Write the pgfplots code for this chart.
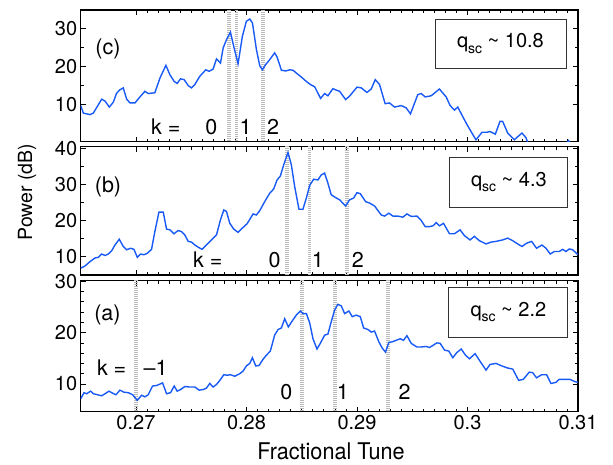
\documentclass[border=0pt]{standalone}
\usepackage{pgfplots}
\pgfplotsset{compat=1.18}
\usepackage{fontspec}
\setmainfont{TeX Gyre Heros}
\newfontfamily\xlfont[FakeStretch=0.94]{TeX Gyre Heros}
\definecolor{spec}{RGB}{25,90,245}
\newcommand{\lbl}{\fontsize{20}{20}\selectfont}
\newcommand{\ilbl}{\fontsize{21.5}{22}\selectfont}
\newcommand{\qsc}[1]{\fontsize{20}{20}\selectfont q\raisebox{-0.5ex}{\fontsize{14}{14}\selectfont sc} \textasciitilde{} #1}
\tikzset{qbox/.style={draw=black!80, line width=0.8pt, fill=white, inner sep=0pt}}
\pgfplotsset{
  panel/.style={
    scale only axis, width=497.3pt,
    xmin=0.265, xmax=0.31,
    xtick={0.27,0.28,0.29,0.3,0.31},
    minor x tick num=9,
    tick align=inside,
    axis line style={line width=1.3pt},
    major tick length=5pt, minor tick length=3pt,
    every tick/.style={black, line width=0.7pt},
    tick label style={font=\lbl},
    /pgf/number format/assume math mode=true,
    anchor=south west,
  },
  vline/.style={draw=gray!55, line width=3.8pt, dash pattern=on 1pt off 1pt, forget plot},
  specline/.style={spec, line width=1.4pt, mark=none},
}
\begin{document}
\begin{tikzpicture}
\path[use as bounding box] (0,0) rectangle (613pt,464pt);

% ---------------- panel (c) ----------------
\begin{axis}[panel, at={(80.7pt,322.3pt)}, height=131.7pt,
  ymin=0, ymax=35, ytick={10,20,30}, minor y tick num=1, xticklabels={}]
\addplot[vline] coordinates {(0.2784,-5) (0.2784,40)};
\addplot[vline] coordinates {(0.2791,-5) (0.2791,40)};
\addplot[vline] coordinates {(0.2815,-5) (0.2815,40)};
\addplot[specline] coordinates {
(0.26500,9.6) (0.26524,7.6) (0.26584,7.2) (0.26614,7.6) (0.26690,11.3) (0.26720,10.8)
(0.26759,9.2) (0.26795,10.5) (0.26825,12.9) (0.26855,13.8) (0.26885,14.3) (0.26916,11.3)
(0.26946,10.3) (0.26991,10.3) (0.27036,11.9) (0.27081,13.4) (0.27111,12.8) (0.27171,13.0)
(0.27217,16.9) (0.27271,20.3) (0.27307,17.8) (0.27346,16.0) (0.27373,15.5) (0.27403,16.7)
(0.27436,16.5) (0.27473,14.9) (0.27503,14.3) (0.27533,15.2) (0.27578,17.4) (0.27632,19.1)
(0.27662,18.7) (0.27698,19.3) (0.27729,22.0) (0.27765,20.9) (0.27789,24.9) (0.27819,27.1)
(0.27855,29.1) (0.27885,25.3) (0.27924,20.7) (0.27963,28.0) (0.27999,32.0) (0.28030,32.6)
(0.28054,31.6) (0.28090,24.5) (0.28120,20.2) (0.28144,19.1) (0.28174,20.5) (0.28210,21.8)
(0.28255,23.6) (0.28277,22.5) (0.28316,19.0) (0.28355,18.8) (0.28391,19.1) (0.28421,19.0)
(0.28457,18.1) (0.28496,17.2) (0.28542,16.0) (0.28578,15.2) (0.28617,14.6) (0.28671,11.5)
(0.28707,12.8) (0.28737,12.2) (0.28782,14.1) (0.28813,13.7) (0.28843,13.4) (0.28897,11.2)
(0.28933,12.1) (0.29000,14.5) (0.29039,14.3) (0.29090,13.1) (0.29129,14.0) (0.29165,16.5)
(0.29204,15.2) (0.29255,10.1) (0.29294,10.3) (0.29340,9.2) (0.29400,9.6) (0.29445,9.0)
(0.29484,7.4) (0.29550,12.5) (0.29581,12.8) (0.29617,11.9) (0.29671,12.2) (0.29746,14.0)
(0.29807,11.9) (0.29843,9.6) (0.29882,8.4) (0.29912,9.2) (0.29987,5.0) (0.30032,2.7)
(0.30077,0.5) (0.30131,2.5) (0.30174,2.5) (0.30204,2.7) (0.30252,2.0) (0.30294,5.4)
(0.30318,5.4) (0.30364,2.3) (0.30424,0.5) (0.30454,1.3) (0.30493,2.3) (0.30529,1.1)
(0.30559,-1.5) (0.30680,-3) (0.30861,-1.5) (0.30915,0.3) (0.30951,-1.5) (0.31000,-3)
};
\node[font=\ilbl] at (axis cs:0.26747,24.7) {(c)};
\node[font=\ilbl] at (axis cs:0.2727,4.0) {k =};
\node[font=\ilbl] at (axis cs:0.27683,4.0) {0};
\node[font=\ilbl] at (axis cs:0.27993,4.0) {1};
\node[font=\ilbl] at (axis cs:0.28240,4.0) {2};
\node[qbox, minimum width=131pt, minimum height=49pt] at (rel axis cs:0.844,0.746) {\qsc{10.8}};
\end{axis}

% ---------------- panel (b) ----------------
\begin{axis}[panel, at={(80.7pt,189pt)}, height=128.3pt,
  ymin=4.9, ymax=40.4, ytick={10,20,30,40}, minor y tick num=1, xticklabels={}]
\addplot[vline] coordinates {(0.2837,0) (0.2837,45)};
\addplot[vline] coordinates {(0.2857,0) (0.2857,45)};
\addplot[vline] coordinates {(0.2891,0) (0.2891,45)};
\addplot[specline] coordinates {
(0.26500,6.8) (0.26539,7.4) (0.26584,8.6) (0.26629,9.6) (0.26660,9.8) (0.26690,10.7)
(0.26720,10.3) (0.26750,10.7) (0.26780,11.6) (0.26810,13.2) (0.26849,14.8) (0.26885,12.8)
(0.26916,11.9) (0.26952,12.3) (0.26982,12.0) (0.27012,9.8) (0.27042,10.7) (0.27072,10.5)
(0.27102,10.9) (0.27141,12.0) (0.27171,16.9) (0.27208,22.3) (0.27247,22.3) (0.27277,17.6)
(0.27307,17.4) (0.27343,16.3) (0.27382,17.2) (0.27412,16.9) (0.27442,16.0) (0.27473,14.2)
(0.27503,14.0) (0.27533,13.2) (0.27563,12.6) (0.27599,12.0) (0.27638,13.2) (0.27683,14.6)
(0.27729,16.0) (0.27765,20.2) (0.27795,22.9) (0.27819,22.5) (0.27849,19.2) (0.27885,17.6)
(0.27924,16.7) (0.27963,17.9) (0.28006,19.1) (0.28060,21.8) (0.28090,21.5) (0.28120,22.7)
(0.28165,25.2) (0.28210,27.5) (0.28246,28.7) (0.28277,31.2) (0.28307,32.3) (0.28337,35.4)
(0.28376,38.8) (0.28406,35.4) (0.28436,29.4) (0.28475,23.1) (0.28511,23.1) (0.28542,26.2)
(0.28572,29.7) (0.28608,31.4) (0.28647,31.2) (0.28677,32.6) (0.28707,33.1) (0.28737,30.3)
(0.28767,27.1) (0.28813,26.2) (0.28843,25.7) (0.28897,24.0) (0.28933,25.7) (0.28970,26.2)
(0.29000,27.7) (0.29030,27.4) (0.29078,25.2) (0.29114,24.8) (0.29159,24.0) (0.29220,21.5)
(0.29250,21.2) (0.29289,22.0) (0.29325,21.2) (0.29370,21.2) (0.29415,20.9) (0.29452,21.8)
(0.29491,21.1) (0.29542,21.2) (0.29581,20.0) (0.29617,18.3) (0.29657,18.3) (0.29687,18.5)
(0.29717,19.4) (0.29746,18.5) (0.29783,19.2) (0.29837,16.3) (0.29882,16.3) (0.29933,17.4)
(0.29972,15.8) (0.30023,14.6) (0.30062,15.6) (0.30107,14.4) (0.30168,13.5) (0.30213,14.0)
(0.30258,14.2) (0.30318,14.6) (0.30364,15.1) (0.30409,14.4) (0.30454,13.5) (0.30493,12.8)
(0.30535,13.7) (0.30580,14.2) (0.30625,12.3) (0.30673,13.2) (0.30710,12.3) (0.30749,10.7)
(0.30785,11.4) (0.30830,11.4) (0.30861,12.0) (0.30891,11.4) (0.30921,12.1) (0.30951,11.9)
(0.31000,10.5)
};
\node[font=\ilbl] at (axis cs:0.26747,29.4) {(b)};
\node[font=\ilbl] at (axis cs:0.27650,9.1) {k =};
\node[font=\ilbl] at (axis cs:0.28255,9.1) {0};
\node[font=\ilbl] at (axis cs:0.28646,9.1) {1};
\node[font=\ilbl] at (axis cs:0.29008,9.1) {2};
\node[qbox, minimum width=118pt, minimum height=50pt] at (rel axis cs:0.861,0.725) {\qsc{4.3}};
\end{axis}

% ---------------- panel (a) ----------------
\begin{axis}[panel, at={(80.7pt,52.3pt)}, height=131pt,
  ymin=4.6, ymax=30.1, ytick={10,20,30}, minor y tick num=4]
\addplot[vline] coordinates {(0.2700,0) (0.2700,35)};
\addplot[vline] coordinates {(0.2850,0) (0.2850,35)};
\addplot[vline] coordinates {(0.2880,0) (0.2880,35)};
\addplot[vline] coordinates {(0.2928,0) (0.2928,35)};
\addplot[specline] coordinates {
(0.26500,7.1) (0.26530,8.3) (0.26554,8.1) (0.26590,8.6) (0.26614,8.1) (0.26651,7.9)
(0.26690,7.7) (0.26720,8.1) (0.26756,8.6) (0.26789,8.2) (0.26819,7.9) (0.26855,8.8)
(0.26891,8.4) (0.26931,8.3) (0.26970,7.9) (0.27012,6.8) (0.27051,7.8) (0.27081,7.5)
(0.27111,7.9) (0.27150,9.6) (0.27187,9.7) (0.27241,10.2) (0.27277,8.1) (0.27313,8.3)
(0.27346,9.6) (0.27373,8.6) (0.27403,8.9) (0.27442,9.5) (0.27488,9.4) (0.27533,9.4)
(0.27572,8.8) (0.27608,8.9) (0.27638,9.2) (0.27668,10.1) (0.27698,9.4) (0.27729,9.9)
(0.27759,10.7) (0.27795,11.8) (0.27825,11.7) (0.27855,11.8) (0.27894,11.5) (0.27939,12.0)
(0.27969,12.5) (0.27999,13.5) (0.28030,14.0) (0.28054,15.1) (0.28084,13.5) (0.28114,13.6)
(0.28150,14.8) (0.28180,15.6) (0.28216,16.4) (0.28255,19.5) (0.28286,20.6) (0.28316,20.9)
(0.28346,22.7) (0.28379,21.1) (0.28412,22.2) (0.28451,23.4) (0.28487,24.2) (0.28511,23.7)
(0.28542,23.7) (0.28572,21.9) (0.28602,18.8) (0.28638,16.8) (0.28668,17.9) (0.28707,19.5)
(0.28737,19.7) (0.28767,22.1) (0.28798,24.4) (0.28827,25.5) (0.28858,25.2) (0.28888,23.7)
(0.28927,24.2) (0.28957,23.1) (0.28993,23.4) (0.29030,23.1) (0.29060,20.9) (0.29099,20.6)
(0.29129,20.1) (0.29159,20.3) (0.29198,18.2) (0.29228,17.0) (0.29258,16.2) (0.29289,18.1)
(0.29319,18.2) (0.29355,18.5) (0.29391,18.8) (0.29421,18.5) (0.29452,19.4) (0.29491,17.9)
(0.29542,17.2) (0.29581,17.2) (0.29626,17.3) (0.29657,17.1) (0.29687,17.5) (0.29723,18.0)
(0.29753,17.9) (0.29792,16.6) (0.29831,16.4) (0.29867,15.1) (0.29903,16.1) (0.29943,16.8)
(0.29982,15.6) (0.30018,14.9) (0.30069,15.9) (0.30108,14.6) (0.30168,12.7) (0.30204,13.8)
(0.30258,14.0) (0.30312,13.5) (0.30364,13.1) (0.30409,12.9) (0.30463,10.7) (0.30505,10.9)
(0.30559,12.3) (0.30589,12.2) (0.30625,11.2) (0.30671,11.8) (0.30716,11.8) (0.30755,10.1)
(0.30800,10.3) (0.30830,10.9) (0.30891,10.9) (0.30927,10.9) (0.30967,10.5) (0.31000,10.3)
};
\node[font=\ilbl] at (axis cs:0.26742,23.4) {(a)};
\node[font=\ilbl] at (axis cs:0.2678,13.2) {k =};
\node[font=\ilbl] at (axis cs:0.27178,13.2) {\textendash 1};
\node[font=\ilbl] at (axis cs:0.28361,8.5) {0};
\node[font=\ilbl] at (axis cs:0.28872,8.5) {1};
\node[font=\ilbl] at (axis cs:0.29430,8.5) {2};
\node[qbox, minimum width=119pt, minimum height=50pt] at (rel axis cs:0.860,0.761) {\qsc{2.2}};
\end{axis}

\node[font=\fontsize{19.5}{20}\selectfont, rotate=90] at (27pt,272pt) {Power (dB)};
\node[font=\xlfont\fontsize{23}{24}\selectfont, anchor=base, inner sep=0pt] at (331pt,5pt) {Fractional Tune};
\end{tikzpicture}
\end{document}
